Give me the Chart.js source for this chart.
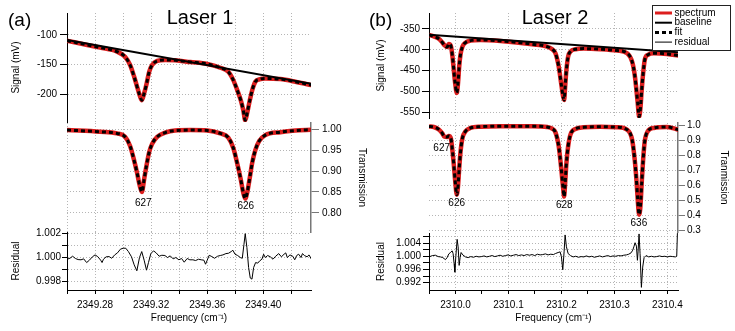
<!DOCTYPE html>
<html>
<head>
<meta charset="utf-8">
<title>Laser 1 / Laser 2</title>
<script src="https://cdn.jsdelivr.net/npm/chart.js@4.4.1/dist/chart.umd.min.js"></script>
<style>
  body { margin: 0; background: #fff; }
  #wrap { position: relative; width: 735px; height: 331px; overflow: hidden; font-family: "Liberation Sans", Arial, sans-serif; }
  canvas { position: absolute; top: 0; }
  .txt { position: absolute; white-space: nowrap; color: #000; }
</style>
</head>
<body>
<div id="wrap">
  <canvas id="sigA" width="370" height="331" style="left:0"></canvas>
  <canvas id="trA" width="370" height="331" style="left:0"></canvas>
  <canvas id="resA" width="370" height="331" style="left:0"></canvas>
  <canvas id="sigB" width="365" height="331" style="left:370px"></canvas>
  <canvas id="trB" width="365" height="331" style="left:370px"></canvas>
  <canvas id="resB" width="365" height="331" style="left:370px"></canvas>
  <div class="txt" style="left:8px;top:10px;font-size:19px;line-height:19px">(a)</div>
  <div class="txt" style="left:140px;width:120px;text-align:center;top:7px;font-size:20px;line-height:20px">Laser 1</div>
  <div class="txt" style="left:369px;top:10px;font-size:19px;line-height:19px">(b)</div>
  <div class="txt" style="left:495px;width:120px;text-align:center;top:7px;font-size:20px;line-height:20px">Laser 2</div>
</div>
<script>
// ---- panel (a): Laser 1 ----
const freqA = [2349.2600, 2349.2836, 2349.2957, 2349.3014, 2349.3050, 2349.3079, 2349.3100, 2349.3118, 2349.3134,
  2349.3150, 2349.3168, 2349.3186, 2349.3207, 2349.3243, 2349.3300, 2349.3371, 2349.3479, 2349.3600, 2349.3693,
  2349.3750, 2349.3786, 2349.3814, 2349.3839, 2349.3857, 2349.3871, 2349.3886, 2349.3904, 2349.3921, 2349.3943,
  2349.3971, 2349.4014, 2349.4121, 2349.4229, 2349.4343];
const signalA = [-109.7, -121.5, -128.3, -136.8, -150.8, -170.7, -187.6, -201.7, -210.2,
  -198.8, -181.9, -162.2, -150.8, -144.0, -142.4, -142.9, -145.8, -149.0, -155.4,
  -162.2, -176.3, -193.2, -210.2, -227.0, -244.0, -230.5, -210.0, -193.0, -179.0,
  -175.0, -173.4, -174.6, -179.0, -184.7];
const transA = [0.998, 0.994, 0.990, 0.982, 0.960, 0.925, 0.895, 0.866, 0.850,
  0.880, 0.915, 0.945, 0.965, 0.982, 0.992, 0.997, 0.998, 0.997, 0.990,
  0.980, 0.955, 0.918, 0.880, 0.848, 0.834, 0.850, 0.885, 0.920, 0.950,
  0.972, 0.986, 0.993, 0.997, 0.999];
const baseFreqA = [2349.2600, 2349.4343];
const baselineA = [-108.5, -182.5];
const resFreqA = [2349.2600, 2349.2621, 2349.2640, 2349.2660, 2349.2679, 2349.2700, 2349.2719, 2349.2740, 2349.2760,
  2349.2781, 2349.2800, 2349.2819, 2349.2840, 2349.2850, 2349.2860, 2349.2879, 2349.2900, 2349.2919, 2349.2940,
  2349.2960, 2349.2981, 2349.3000, 2349.3019, 2349.3038, 2349.3060, 2349.3079, 2349.3098, 2349.3117, 2349.3133,
  2349.3150, 2349.3167, 2349.3181, 2349.3198, 2349.3217, 2349.3236, 2349.3257, 2349.3276, 2349.3298, 2349.3317,
  2349.3336, 2349.3357, 2349.3376, 2349.3398, 2349.3417, 2349.3436, 2349.3457, 2349.3476, 2349.3498, 2349.3517,
  2349.3538, 2349.3557, 2349.3576, 2349.3588, 2349.3598, 2349.3614, 2349.3633, 2349.3652, 2349.3674, 2349.3693,
  2349.3712, 2349.3733, 2349.3752, 2349.3771, 2349.3783, 2349.3798, 2349.3817, 2349.3836, 2349.3850, 2349.3862,
  2349.3871, 2349.3883, 2349.3895, 2349.3907, 2349.3919, 2349.3931, 2349.3945, 2349.3960, 2349.3974, 2349.3990,
  2349.4002, 2349.4014, 2349.4031, 2349.4050, 2349.4069, 2349.4088, 2349.4110, 2349.4129, 2349.4148, 2349.4160,
  2349.4171, 2349.4190, 2349.4210, 2349.4224, 2349.4238, 2349.4252, 2349.4269, 2349.4279, 2349.4293, 2349.4312,
  2349.4326, 2349.4343];
const residualA = [0.99986, 0.99994, 1.00011, 0.99992, 0.99983, 0.99981, 0.99989, 0.99958, 0.99978,
  1.00006, 1.00022, 1.00008, 0.99978, 0.99958, 0.99986, 1.00006, 1.00008, 0.99994, 1.00022,
  1.00039, 1.00070, 1.00078, 1.00078, 1.00050, 1.00006, 0.99939, 0.99889, 1.00000, 1.00050,
  0.99978, 0.99894, 0.99958, 1.00033, 1.00056, 1.00039, 1.00011, 1.00019, 1.00017, 1.00000,
  1.00014, 0.99989, 1.00000, 0.99981, 0.99992, 0.99961, 0.99992, 0.99981, 0.99981, 0.99975,
  0.99986, 0.99981, 0.99978, 0.99944, 0.99972, 1.00019, 1.00008, 0.99994, 1.00011, 1.00017,
  1.00022, 1.00033, 1.00036, 1.00050, 1.00061, 1.00028, 1.00017, 1.00000, 0.99994, 1.00111,
  1.00200, 1.00083, 0.99917, 0.99828, 0.99819, 0.99917, 0.99958, 0.99953, 0.99972, 0.99986,
  1.00028, 1.00000, 1.00017, 1.00006, 0.99986, 1.00011, 1.00033, 1.00006, 1.00028, 1.00039,
  1.00000, 1.00022, 1.00011, 0.99981, 1.00017, 1.00028, 1.00000, 1.00033, 1.00017, 1.00006,
  1.00022, 0.99986];
const peakNamesA = ['627', '626'];
const peakFreqA = [2349.3144, 2349.3875];
const peakLevelA = [0.823, 0.816];

const freqTicksA = [2349.26, 2349.28, 2349.30, 2349.32, 2349.34, 2349.36, 2349.38, 2349.40, 2349.42];
const freqLabelsA = ['', '2349.28', '', '2349.32', '', '2349.36', '', '2349.40', ''];
const signalTicksA = [-200, -150, -100];
const signalLabelsA = ['-200', '-150', '-100'];
const transTicksA = [0.80, 0.85, 0.90, 0.95, 1.00];
const transLabelsA = ['0.80', '0.85', '0.90', '0.95', '1.00'];
const resTicksA = [0.998, 0.999, 1.000, 1.001, 1.002];
const resLabelsA = ['0.998', '', '1.000', '', '1.002'];

// ---- panel (b): Laser 2 ----
const freqB = [2309.9500, 2309.9590, 2309.9685, 2309.9749, 2309.9792, 2309.9843, 2309.9873, 2309.9911, 2309.9943,
  2309.9968, 2309.9994, 2310.0025, 2310.0049, 2310.0070, 2310.0094, 2310.0132, 2310.0189, 2310.0283, 2310.0472,
  2310.0849, 2310.1447, 2310.1730, 2310.1825, 2310.1887, 2310.1949, 2310.1994, 2310.2032, 2310.2051, 2310.2070,
  2310.2094, 2310.2126, 2310.2170, 2310.2264, 2310.2421, 2310.2736, 2310.3051, 2310.3240, 2310.3334, 2310.3383,
  2310.3415, 2310.3440, 2310.3466, 2310.3491, 2310.3515, 2310.3542, 2310.3572, 2310.3628, 2310.3742, 2310.3994,
  2310.4213];
const signalB = [-364.4, -368.0, -373.5, -382.0, -389.0, -393.5, -386.0, -390.0, -416.0,
  -448.0, -480.0, -503.0, -478.0, -440.0, -412.0, -392.3, -382.8, -378.0, -376.3,
  -378.7, -386.6, -392.3, -398.6, -408.1, -440.2, -479.9, -512.0, -519.8, -488.0,
  -448.0, -416.2, -404.3, -398.6, -397.1, -398.6, -401.9, -408.1, -428.2, -460.0,
  -495.9, -527.7, -559.8, -539.7, -495.9, -456.0, -424.2, -412.2, -408.1, -409.8,
  -413.9];
const transB = [0.995, 0.991, 0.975, 0.950, 0.926, 0.924, 0.931, 0.918, 0.830,
  0.740, 0.630, 0.537, 0.600, 0.710, 0.820, 0.917, 0.962, 0.985, 0.993,
  0.997, 0.997, 0.991, 0.980, 0.955, 0.861, 0.720, 0.580, 0.525, 0.615,
  0.750, 0.861, 0.940, 0.978, 0.989, 0.993, 0.990, 0.973, 0.906, 0.772,
  0.638, 0.503, 0.403, 0.460, 0.615, 0.772, 0.895, 0.962, 0.985, 0.991,
  0.972];
const baseFreqB = [2309.9500, 2310.4213];
const baselineB = [-364.0, -405.8];
const resFreqB = [2309.9500, 2309.9565, 2309.9622, 2309.9672, 2309.9716, 2309.9760, 2309.9786, 2309.9811, 2309.9842,
  2309.9874, 2309.9905, 2309.9937, 2309.9955, 2309.9974, 2309.9987, 2310.0006, 2310.0031, 2310.0050, 2310.0069,
  2310.0087, 2310.0106, 2310.0138, 2310.0188, 2310.0239, 2310.0289, 2310.0339, 2310.0389, 2310.0440, 2310.0490,
  2310.0540, 2310.0591, 2310.0641, 2310.0691, 2310.0742, 2310.0792, 2310.0842, 2310.0892, 2310.0943, 2310.0993,
  2310.1043, 2310.1094, 2310.1144, 2310.1194, 2310.1245, 2310.1295, 2310.1345, 2310.1396, 2310.1446, 2310.1496,
  2310.1547, 2310.1597, 2310.1647, 2310.1697, 2310.1748, 2310.1798, 2310.1849, 2310.1886, 2310.1937, 2310.1975,
  2310.2000, 2310.2025, 2310.2050, 2310.2069, 2310.2094, 2310.2126, 2310.2170, 2310.2220, 2310.2270, 2310.2321,
  2310.2371, 2310.2421, 2310.2471, 2310.2522, 2310.2572, 2310.2622, 2310.2673, 2310.2723, 2310.2773, 2310.2823,
  2310.2874, 2310.2924, 2310.2974, 2310.3025, 2310.3075, 2310.3125, 2310.3176, 2310.3226, 2310.3270, 2310.3314,
  2310.3346, 2310.3371, 2310.3390, 2310.3415, 2310.3434, 2310.3446, 2310.3465, 2310.3484, 2310.3509, 2310.3534,
  2310.3560, 2310.3597, 2310.3648, 2310.3698, 2310.3748, 2310.3799, 2310.3849, 2310.3899, 2310.3950, 2310.4000,
  2310.4050, 2310.4101, 2310.4151, 2310.4176, 2310.4189, 2310.4213];
const residualB = [0.99980, 1.00021, 1.00031, 0.99990, 0.99980, 0.99959, 0.99928, 0.99898, 0.99959,
  1.00072, 1.00113, 1.00164, 1.00082, 0.99775, 0.99518, 0.99980, 1.00513, 1.00287, 0.99723,
  0.99959, 1.00113, 1.00041, 0.99980, 0.99959, 0.99990, 0.99969, 1.00000, 0.99980, 0.99990,
  1.00010, 0.99980, 1.00000, 1.00021, 0.99990, 1.00010, 1.00031, 1.00000, 1.00021, 1.00041,
  1.00010, 1.00031, 1.00051, 1.00021, 1.00041, 1.00021, 1.00051, 1.00031, 1.00051, 1.00021,
  1.00062, 1.00041, 1.00051, 1.00072, 1.00041, 1.00062, 1.00051, 1.00082, 1.00113, 1.00133,
  0.99980, 0.99590, 1.00133, 1.00646, 1.00287, 1.00082, 1.00021, 0.99980, 1.00000, 0.99969,
  0.99990, 0.99980, 1.00010, 0.99980, 1.00000, 0.99969, 0.99990, 1.00010, 0.99980, 1.00000,
  1.00021, 0.99990, 1.00010, 1.00000, 1.00021, 1.00010, 1.00031, 1.00041, 1.00062, 1.00103,
  1.00185, 1.00308, 1.00410, 1.00308, 0.99877, 1.00133, 1.00677, 1.00082, 0.99057, 0.99672,
  0.99959, 1.00021, 0.99980, 1.00000, 0.99980, 0.99990, 1.00010, 0.99990, 1.00000, 0.99980,
  1.00000, 0.99990, 0.99980, 1.00000, 1.00697, 1.00718];
const peakNamesB = ['627', '626', '628', '636'];
const peakFreqB = [2309.9740, 2310.0023, 2310.2053, 2310.3462];
const peakLevelB = [0.846, 0.477, 0.465, 0.347];

const freqTicksB = [2309.95, 2310.00, 2310.05, 2310.10, 2310.15, 2310.20, 2310.25, 2310.30, 2310.35, 2310.40];
const freqLabelsB = ['', '2310.0', '', '2310.1', '', '2310.2', '', '2310.3', '', '2310.4'];
const signalTicksB = [-550, -500, -450, -400, -350];
const signalLabelsB = ['-550', '-500', '-450', '-400', '-350'];
const transTicksB = [0.3, 0.4, 0.5, 0.6, 0.7, 0.8, 0.9, 1.0];
const transLabelsB = ['0.3', '0.4', '0.5', '0.6', '0.7', '0.8', '0.9', '1.0'];
const resTicksB = [0.992, 0.994, 0.996, 0.998, 1.000, 1.002, 1.004, 1.006];
const resLabelsB = ['0.992', '', '0.996', '', '1.000', '', '1.004', ''];

const legendNames = ['spectrum', 'baseline', 'fit', 'residual'];

// ---- drawing ----
Chart.defaults.font.family = '"Liberation Sans", Arial, sans-serif';
Chart.defaults.font.size = 10;
Chart.defaults.color = '#000';

const GRID = '#b5b5b5';
const H = 331;

const pts = (xs, ys) => xs.map((x, i) => ({x: x, y: ys[i]}));
const setTicks = vals => s => { s.ticks = vals.map(v => ({value: v})); };

const spectrumStyle = {borderColor: '#dc1e1e', borderWidth: 4.5, cubicInterpolationMode: 'monotone'};
const fitStyle = {borderColor: '#000', borderWidth: 3, borderDash: [4, 3], cubicInterpolationMode: 'monotone'};
const baselineStyle = {borderColor: '#000', borderWidth: 2};
const residualStyle = {borderColor: '#000', borderWidth: 1};

function topX(min, max, ticks, gridColor) {
  return {
    type: 'linear', min: min, max: max,
    afterBuildTicks: setTicks(ticks),
    afterFit: s => { s.height = 0; },
    ticks: {display: false},
    grid: {color: gridColor, drawTicks: false},
    border: {display: false, dash: [1, 2]}
  };
}

function bottomX(min, max, ticks, labels, gridColor) {
  return {
    type: 'linear', min: min, max: max,
    afterBuildTicks: setTicks(ticks),
    afterFit: s => { s.height = 41; },
    ticks: {callback: (v, i) => labels[i], autoSkip: false, maxRotation: 0, padding: 5},
    grid: {color: gridColor, tickLength: 4, tickColor: '#000', tickBorderDash: []},
    border: {color: '#000', dash: [1, 2]},
    title: {display: true, text: 'Frequency (cm⁻¹)', padding: {top: 0, bottom: 7}}
  };
}

function yAx(position, min, max, ticks, labels, width, title, titlePad, tickLen, tickPad, axisColor, axisWidth) {
  return {
    position: position, min: min, max: max,
    afterBuildTicks: setTicks(ticks),
    afterFit: s => { s.width = width; },
    ticks: {callback: (v, i) => labels[i], autoSkip: false, padding: tickPad},
    grid: {color: GRID, tickLength: tickLen, tickColor: axisColor, tickBorderDash: []},
    border: {color: axisColor, width: axisWidth, dash: [1, 2]},
    title: {display: true, text: title, padding: {top: titlePad, bottom: 0}}
  };
}

const peakLabels = {
  id: 'peakLabels',
  afterDatasetsDraw(chart, args, opts) {
    if (!opts.names) return;
    const ctx = chart.ctx, x = chart.scales.x, y = chart.scales.y;
    ctx.save();
    ctx.font = '10px "Liberation Sans", Arial, sans-serif';
    ctx.fillStyle = '#000';
    ctx.textAlign = 'center';
    ctx.textBaseline = 'middle';
    opts.names.forEach((n, i) => ctx.fillText(n, x.getPixelForValue(opts.freqs[i]), y.getPixelForValue(opts.levels[i])));
    ctx.restore();
  }
};

const boxLegend = {
  id: 'boxLegend',
  afterDraw(chart, args, opts) {
    if (!opts.names) return;
    const ctx = chart.ctx;
    ctx.save();
    ctx.fillStyle = '#fff';
    ctx.fillRect(282, 5, 79, 46);
    ctx.strokeStyle = '#222';
    ctx.lineWidth = 1;
    ctx.strokeRect(282.5, 5.5, 78, 45);
    ctx.font = '10px "Liberation Sans", Arial, sans-serif';
    ctx.textBaseline = 'middle';
    ctx.fillStyle = '#000';
    opts.names.forEach((n, i) => {
      const st = opts.styles[i];
      const yy = 13 + i * 9.7;
      ctx.beginPath();
      ctx.strokeStyle = st.borderColor;
      ctx.lineWidth = Math.min(st.borderWidth, 3);
      ctx.setLineDash(st.borderDash || []);
      ctx.moveTo(285, yy);
      ctx.lineTo(302, yy);
      ctx.stroke();
      ctx.setLineDash([]);
      ctx.fillText(n, 304.5, yy);
    });
    ctx.restore();
  }
};

function plot(id, padding, scales, datasets, pluginOpts) {
  return new Chart(document.getElementById(id), {
    type: 'line',
    data: {datasets: datasets},
    options: {
      responsive: false,
      animation: false,
      events: [],
      layout: {autoPadding: false, padding: padding},
      elements: {point: {radius: 0}},
      plugins: Object.assign({legend: {display: false}, tooltip: {enabled: false}}, pluginOpts || {}),
      scales: scales
    },
    plugins: [peakLabels, boxLegend]
  });
}

const gridAll = GRID;
const gridMajorB = c => freqLabelsB[c.index] ? GRID : 'rgba(0,0,0,0)';

// panel (a)
plot('sigA', {top: 13, bottom: H - 122, left: 0, right: 59}, {
  x: topX(2349.26, 2349.434, freqTicksA, gridAll),
  y: yAx('left', -247, -63, signalTicksA, signalLabelsA, 67, 'Signal (mV)', 10, 7, 3, '#000', 1)
}, [
  Object.assign({label: 'fit', data: pts(freqA, signalA)}, fitStyle),
  Object.assign({label: 'baseline', data: pts(baseFreqA, baselineA)}, baselineStyle),
  Object.assign({label: 'spectrum', data: pts(freqA, signalA)}, spectrumStyle)
]);

plot('trA', {top: 123, bottom: H - 232, left: 67, right: 0}, {
  x: topX(2349.26, 2349.434, freqTicksA, gridAll),
  y: yAx('right', 0.754, 1.015, transTicksA, transLabelsA, 59, 'Transmission', 2, 8, 3, '#777', 1.5)
}, [
  Object.assign({label: 'fit', data: pts(freqA, transA)}, fitStyle),
  Object.assign({label: 'spectrum', data: pts(freqA, transA)}, spectrumStyle)
], {peakLabels: {names: peakNamesA, freqs: peakFreqA, levels: peakLevelA}});

plot('resA', {top: 232, bottom: 0, left: 0, right: 59}, {
  x: bottomX(2349.26, 2349.434, freqTicksA, freqLabelsA, gridAll),
  y: yAx('left', 0.99728, 1.00214, resTicksA, resLabelsA, 67, 'Residual', 10, 5, 1, '#000', 1)
}, [
  Object.assign({label: 'residual', data: pts(resFreqA, residualA)}, residualStyle)
]);

// panel (b)
plot('sigB', {top: 13, bottom: H - 118, left: 0, right: 57}, {
  x: topX(2309.95, 2310.42, freqTicksB, gridMajorB),
  y: yAx('left', -563, -312, signalTicksB, signalLabelsB, 59, 'Signal (mV)', 5.7, 7, 2, '#000', 1)
}, [
  Object.assign({label: 'fit', data: pts(freqB, signalB)}, fitStyle),
  Object.assign({label: 'baseline', data: pts(baseFreqB, baselineB)}, baselineStyle),
  Object.assign({label: 'spectrum', data: pts(freqB, signalB)}, spectrumStyle)
], {boxLegend: {names: legendNames, styles: [spectrumStyle, baselineStyle, fitStyle, residualStyle]}});

plot('trB', {top: 123, bottom: H - 232, left: 59, right: 0}, {
  x: topX(2309.95, 2310.42, freqTicksB, gridMajorB),
  y: yAx('right', 0.287, 1.018, transTicksB, transLabelsB, 57, 'Tranmission', 5.7, 7, 2, '#777', 1.5)
}, [
  Object.assign({label: 'fit', data: pts(freqB, transB)}, fitStyle),
  Object.assign({label: 'spectrum', data: pts(freqB, transB)}, spectrumStyle)
], {peakLabels: {names: peakNamesB, freqs: peakFreqB, levels: peakLevelB}});

plot('resB', {top: 233, bottom: 0, left: 0, right: 57}, {
  x: bottomX(2309.95, 2310.42, freqTicksB, freqLabelsB, gridMajorB),
  y: yAx('left', 0.98977, 1.00705, resTicksB, resLabelsB, 59, 'Residual', 5.7, 6, 2, '#000', 1)
}, [
  Object.assign({label: 'residual', data: pts(resFreqB, residualB)}, residualStyle)
]);
</script>
</body>
</html>
